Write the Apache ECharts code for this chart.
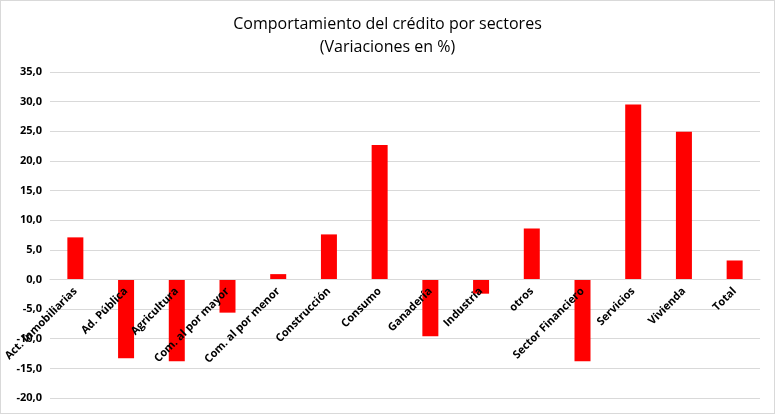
<!DOCTYPE html>
<html>
<head>
<meta charset="utf-8">
<script src="https://cdn.jsdelivr.net/npm/echarts@6/dist/echarts.min.js"></script>
<style>
  html, body { margin: 0; padding: 0; background: #fff; }
  #chart { width: 773px; height: 412px; border: 1px solid #d9d9d9; }
</style>
</head>
<body>
<div id="chart"></div>
<script>
const sectores = ['Act. Inmobiliarias', 'Ad. Pública', 'Agricultura', 'Com. al por mayor',
  'Com. al por menor', 'Construcción', 'Consumo', 'Ganadería', 'Industria', 'otros',
  'Sector Financiero', 'Servicios', 'Vivienda', 'Total'];
const variaciones = [7.1, -13.3, -13.8, -5.6, 0.9, 7.6, 22.7, -9.6, -2.4, 8.6, -13.8, 29.5, 24.9, 3.2];

const yMin = -20, yMax = 35;
const gridTop = 71, gridBottom = 15, chartHeight = 412;
// las etiquetas del eje X van pegadas a la línea del 0, como en Excel
const plotH = chartHeight - gridTop - gridBottom;
const zeroOffset = -plotH * (0 - yMin) / (yMax - yMin);

const chart = echarts.init(document.getElementById('chart'));
chart.setOption({
  backgroundColor: '#fff',
  animation: false,
  title: {
    text: 'Comportamiento del crédito por sectores\n(Variaciones en %)',
    left: 'center',
    top: 7,
    textStyle: {
      fontFamily: 'Open Sans',
      fontWeight: 'normal',
      fontSize: 16,
      lineHeight: 23,
      color: '#000'
    }
  },
  grid: {
    left: 49,
    right: 14,
    top: gridTop,
    bottom: gridBottom,
    containLabel: false,
    outerBoundsMode: 'none'
  },
  xAxis: {
    type: 'category',
    data: sectores,
    z: 5,
    offset: zeroOffset,
    axisTick: { show: false },
    axisLine: { onZero: false, lineStyle: { color: '#d9d9d9' } },
    axisLabel: {
      rotate: 45,
      interval: 0,
      margin: 10,
      color: '#000',
      fontWeight: 'bold',
      fontSize: 11,
      fontFamily: 'Open Sans'
    }
  },
  yAxis: {
    type: 'value',
    min: yMin,
    max: yMax,
    interval: 5,
    axisLine: { show: false },
    axisTick: { show: false },
    splitLine: { lineStyle: { color: '#d9d9d9' } },
    axisLabel: {
      color: '#000',
      fontWeight: 'bold',
      fontSize: 11,
      fontFamily: 'Open Sans',
      margin: 8,
      formatter: v => v.toFixed(1).replace('.', ',')
    }
  },
  series: [{
    type: 'bar',
    data: variaciones,
    barWidth: 16,
    itemStyle: { color: '#ff0000' }
  }]
});
</script>
</body>
</html>
